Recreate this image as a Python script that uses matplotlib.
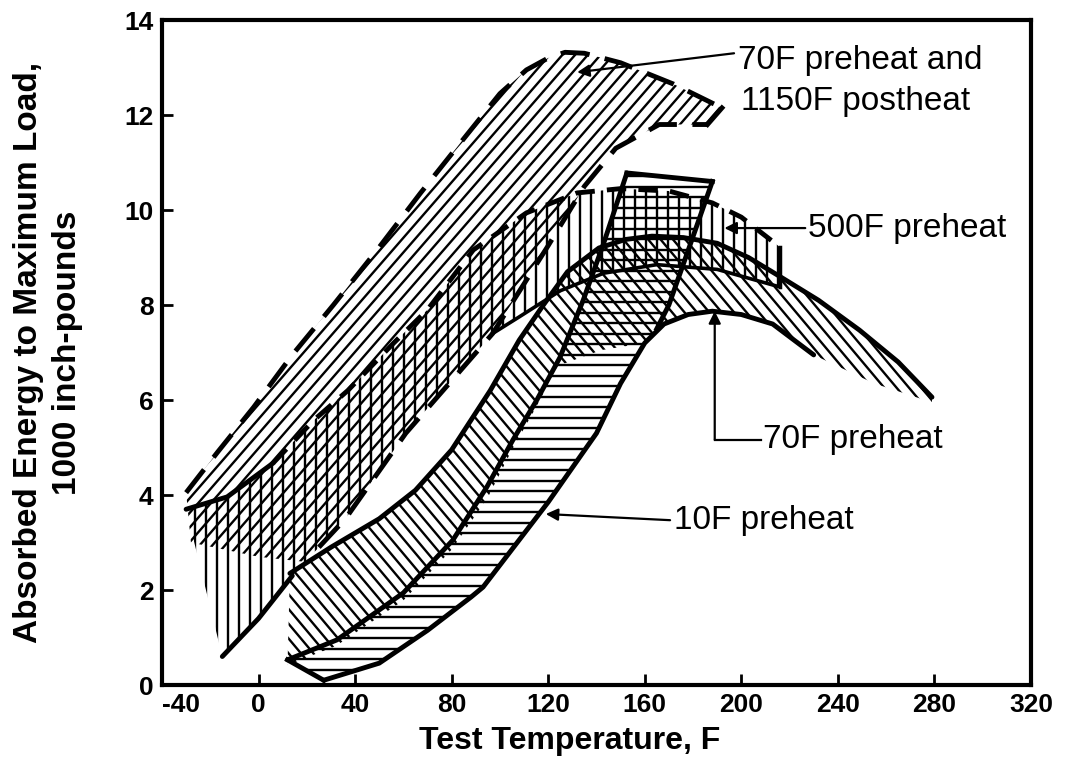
import numpy as np
import matplotlib
matplotlib.use("Agg")
import matplotlib.pyplot as plt
from matplotlib.patches import Polygon
from matplotlib.collections import LineCollection

plt.rcParams['font.family'] = ['Liberation Sans', 'DejaVu Sans']

# --- 70F preheat and 1150F postheat (dashed outline, "/" shading) ---
post_hi_t = [-30, -17, -2, 14, 31, 49, 67, 85, 100, 111, 120, 127, 135, 150, 172, 192]
post_hi_e = [4.05, 4.9, 5.85, 6.95, 8.0, 9.15, 10.35, 11.5, 12.45, 12.95, 13.2, 13.32, 13.3, 13.1, 12.65, 12.15]
post_lo_t = [-28, 0, 18, 25, 36, 61, 97, 120, 135, 148, 166, 186, 192]
post_lo_e = [3.0, 2.7, 2.6, 2.9, 3.5, 5.3, 7.4, 9.25, 10.5, 11.3, 11.8, 11.8, 12.15]

# --- 500F preheat (vertical shading) ---
p500_hi_t = [-30, -13, 6, 23, 37, 56, 70, 89, 111, 132, 150, 170, 188, 200, 216]
p500_hi_e = [3.7, 3.96, 4.67, 5.58, 6.2, 7.2, 7.9, 9.16, 9.94, 10.36, 10.45, 10.4, 10.15, 9.85, 9.22]
p500_lo_t = [-15, 0, 14, 25, 36, 61, 97, 108, 125, 143, 165, 190, 216]
p500_lo_e = [0.6, 1.4, 2.3, 2.9, 3.5, 5.3, 7.4, 7.75, 8.3, 8.67, 8.85, 8.75, 8.38]

# --- 70F preheat ("\" shading) ---
p70_hi_t = [13, 30, 50, 65, 80, 96, 108, 118, 128, 141, 152, 163, 176, 190, 203, 216, 232, 249, 265, 279]
p70_hi_e = [2.35, 2.9, 3.5, 4.1, 4.95, 6.2, 7.26, 8.0, 8.7, 9.2, 9.38, 9.45, 9.42, 9.3, 9.0, 8.6, 8.1, 7.47, 6.8, 6.06]
p70_lo_t = [12, 32, 60, 80, 95, 105, 115, 124, 142, 160, 168, 178, 188, 200, 213, 230, 255, 279]
p70_lo_e = [0.42, 0.82, 1.78, 2.85, 3.95, 4.95, 5.85, 6.72, 7.05, 7.2, 7.6, 7.8, 7.87, 7.8, 7.6, 6.95, 6.35, 5.95]

# --- 10F preheat (horizontal shading) ---
p10_left_t = [12, 32.5, 60, 80.5, 94.6, 105.4, 115.3, 124.9, 134.5, 143, 152.6]
p10_left_e = [0.53, 0.95, 1.94, 3.05, 4.17, 5.16, 6.0, 6.9, 8.1, 9.3, 10.78]
p10_top_t = [152.6, 188]
p10_top_e = [10.78, 10.6]
p10_right_t = [188, 178, 170, 165]
p10_right_e = [10.6, 9.15, 8.0, 7.5]
# lower S-shaped curve, carries on as the lower edge of the 70F band
low_t = [27, 50, 70, 88, 93, 120, 140, 150, 160, 168, 178, 188, 200, 213, 230]
low_e = [0.1, 0.46, 1.15, 1.85, 2.06, 3.85, 5.3, 6.35, 7.2, 7.6, 7.8, 7.87, 7.8, 7.6, 6.95]

xticks = [-40, 0, 40, 80, 120, 160, 200, 240, 280, 320]
yticks = [0, 2, 4, 6, 8, 10, 12, 14]

fig = plt.figure(figsize=(10.67, 7.67), dpi=100)
ax = fig.add_axes([0.1518, 0.1069, 0.8144, 0.8670])
ax.set_xlim(-40, 320)
ax.set_ylim(0, 14)


def make_band(xy):
    p = Polygon(xy, closed=True, facecolor='none', edgecolor='none')
    ax.add_patch(p)
    return p


def shade(patch, angle, spacing, lw=1.7):
    # family of parallel lines over the whole axes, clipped to the band
    bb = ax.get_window_extent()
    W, H = bb.width, bb.height
    th = np.radians(angle)
    d = np.array([np.cos(th), np.sin(th)])
    n = np.array([-np.sin(th), np.cos(th)])
    c = np.array([W / 2, H / 2])
    R = np.hypot(W, H)
    segs = []
    for k in np.arange(-R, R, spacing):
        p0 = c + k * n - R * d
        p1 = c + k * n + R * d
        segs.append([(p0[0] / W, p0[1] / H), (p1[0] / W, p1[1] / H)])
    lc = LineCollection(segs, colors='black', linewidths=lw, transform=ax.transAxes)
    ax.add_collection(lc, autolim=False)
    lc.set_clip_path(patch)


def pts(t, e):
    return list(zip(t, e))


band_post = make_band(pts(post_hi_t, post_hi_e) + pts(post_lo_t[::-1], post_lo_e[::-1]))
band_500 = make_band(pts(p500_hi_t, p500_hi_e) + pts(p500_lo_t[::-1], p500_lo_e[::-1]))
band_70 = make_band(pts(p70_hi_t, p70_hi_e) + pts(p70_lo_t[::-1], p70_lo_e[::-1]))
low_part = [(t, e) for t, e in zip(low_t, low_e) if t <= 160]
band_10 = make_band(pts(p10_left_t, p10_left_e) + pts(p10_top_t, p10_top_e)
                    + pts(p10_right_t, p10_right_e) + low_part[::-1])

shade(band_post, 49, 9.6)
shade(band_500, 90, 11)
shade(band_70, -50, 9.5)
shade(band_10, 0, 10.5)

K = 'black'
dash = (0, (6, 3.2))
thick = 3.5

# outline of the postheat band
ax.plot(post_hi_t, post_hi_e, color=K, lw=thick, ls=dash)
ax.plot(post_lo_t[3:-1], post_lo_e[3:-1], color=K, lw=thick, ls=dash)
ax.plot(post_lo_t[-2:], post_lo_e[-2:], color=K, lw=thick)

# outline of the 500F band
ax.plot(p500_hi_t[:3], p500_hi_e[:3], color=K, lw=thick, solid_capstyle='round')
ax.plot(p500_hi_t[2:], p500_hi_e[2:], color=K, lw=thick, ls=(0, (4, 2.5)))
ax.plot([p500_hi_t[-1], p500_lo_t[-1]], [p500_hi_e[-1], p500_lo_e[-1]], color=K, lw=2.5)
ax.plot(p500_lo_t[:3], p500_lo_e[:3], color=K, lw=thick, solid_capstyle='round')
ax.plot(p500_lo_t[6:], p500_lo_e[6:], color=K, lw=2.6)

# 70F band upper curve
ax.plot(p70_hi_t, p70_hi_e, color=K, lw=thick, solid_capstyle='round')

# 10F band outline and the lower curve
ax.plot(p10_left_t, p10_left_e, color=K, lw=thick, solid_capstyle='round')
ax.plot(p10_top_t, p10_top_e, color=K, lw=thick)
ax.plot(p10_right_t, p10_right_e, color=K, lw=thick)
ax.plot(low_t, low_e, color=K, lw=thick, solid_capstyle='round')
ax.plot([p10_left_t[0], low_t[0]], [p10_left_e[0], low_e[0]], color=K, lw=thick)

# labels with leaders
arrow = dict(arrowstyle='-|>', color=K, lw=1.6, mutation_scale=18, shrinkA=0, shrinkB=0)
lab = dict(fontsize=24, va='center', ha='left')

ax.text(198.5, 13.15, '70F preheat and', **lab)
ax.text(200, 12.28, '1150F postheat', **lab)
ax.annotate('', xy=(132, 12.9), xytext=(197, 13.3), arrowprops=arrow)

ax.text(227.5, 9.62, '500F preheat', **lab)
ax.annotate('', xy=(193, 9.62), xytext=(226.5, 9.62), arrowprops=arrow)

ax.text(209, 5.16, '70F preheat', **lab)
ax.plot([208, 189], [5.16, 5.16], color=K, lw=1.6)
ax.annotate('', xy=(189, 7.87), xytext=(189, 5.16), arrowprops=arrow)

ax.text(172, 3.47, '10F preheat', **lab)
ax.annotate('', xy=(119, 3.6), xytext=(170.5, 3.47), arrowprops=arrow)

# axes frame and ticks
for s in ax.spines.values():
    s.set_linewidth(3)
ax.set_xticks(xticks)
ax.set_yticks(yticks)
ax.set_xticklabels([str(v) for v in xticks])
ax.set_yticklabels([str(v) for v in yticks])
ax.tick_params(direction='in', length=8, width=2, labelsize=19, pad=6)
for t in ax.get_xticklabels() + ax.get_yticklabels():
    t.set_fontweight('bold')
# first temperature label sits just right of the corner
ax.xaxis.get_major_ticks()[0].label1.set_horizontalalignment('left')

fig.text(0.534, 0.034, 'Test Temperature, F', fontsize=23, fontweight='bold',
         ha='center', va='center')
fig.text(0.045, 0.54, 'Absorbed Energy to Maximum Load,\n1000 inch-pounds', fontsize=24,
         fontweight='bold', rotation=90, ha='center', va='center', linespacing=1.3)

fig.savefig('out.png', dpi=100)
